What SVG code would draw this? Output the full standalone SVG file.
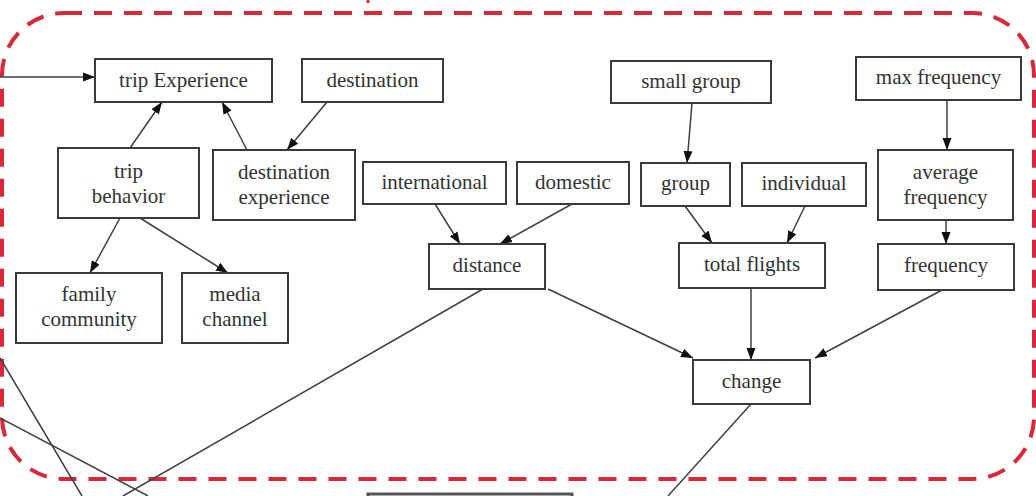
<svg xmlns="http://www.w3.org/2000/svg" width="1036" height="496" viewBox="0 0 1036 496">
  <style>
    .box { fill: #ffffff; stroke: #3a3a3a; stroke-width: 2; }
    .lbl { font-size: 21px; fill: #333333; text-anchor: middle; }
    .edge { fill: none; stroke: #404040; stroke-width: 1.5; }
    .arrow { marker-end: url(#head); }
    .frame { fill: none; stroke: #d9283a; stroke-width: 4; stroke-dasharray: 18 12; }
  </style>
  <defs>
    <marker id="head" viewBox="0 0 12 10" refX="12" refY="5" markerWidth="12" markerHeight="10" markerUnits="userSpaceOnUse" orient="auto">
      <path d="M0,0.5 L12,5 L0,9.5 Z" fill="#111111"/>
    </marker>
  </defs>
  <rect width="1036" height="496" fill="#ffffff"/>

  <!-- dashed group frame -->
  <rect class="frame" x="2" y="13" width="1032" height="466" rx="62" ry="62"/>
  <line x1="368" y1="0" x2="368" y2="3" stroke="#d9283a" stroke-width="3"/>

  <!-- connectors -->
  <g id="connectors">
    <line class="edge arrow" x1="0" y1="77" x2="95" y2="77"/>
    <line class="edge arrow" x1="130" y1="148" x2="162" y2="102"/>
    <line class="edge arrow" x1="247" y1="150" x2="222" y2="102"/>
    <line class="edge arrow" x1="327" y1="102" x2="287" y2="150"/>
    <line class="edge arrow" x1="120" y1="218" x2="90" y2="273"/>
    <line class="edge arrow" x1="140" y1="218" x2="228" y2="273"/>
    <line class="edge arrow" x1="435" y1="204" x2="460" y2="244"/>
    <line class="edge arrow" x1="572" y1="204" x2="500" y2="244"/>
    <line class="edge arrow" x1="692" y1="103" x2="687" y2="163"/>
    <line class="edge arrow" x1="685" y1="206" x2="712" y2="243"/>
    <line class="edge arrow" x1="805" y1="206" x2="787" y2="243"/>
    <line class="edge arrow" x1="947" y1="100" x2="947" y2="150"/>
    <line class="edge arrow" x1="946" y1="220" x2="946" y2="244"/>
    <line class="edge arrow" x1="548" y1="289" x2="693" y2="358"/>
    <line class="edge arrow" x1="751" y1="288" x2="751" y2="360"/>
    <line class="edge arrow" x1="942" y1="290" x2="815" y2="358"/>
    <line class="edge" x1="483" y1="289" x2="123" y2="496"/>
    <line class="edge" x1="751" y1="404" x2="668" y2="496"/>
    <line class="edge" x1="0" y1="358" x2="82" y2="496"/>
    <line class="edge" x1="0" y1="418" x2="148" y2="496"/>
  </g>

  <!-- nodes -->
  <g id="nodes" font-family="Liberation Serif, Times New Roman, serif">
  <g id="trip-experience">
    <rect class="box" x="95" y="59" width="177" height="43"/>
    <text class="lbl" x="183.5" y="87">trip Experience</text>
  </g>
  <g id="destination">
    <rect class="box" x="302" y="59" width="141" height="43"/>
    <text class="lbl" x="372.5" y="87">destination</text>
  </g>
  <g id="trip-behavior">
    <rect class="box" x="58" y="148" width="141" height="70"/>
    <text class="lbl" x="128.5" y="178">trip</text>
    <text class="lbl" x="128.5" y="203">behavior</text>
  </g>
  <g id="destination-experience">
    <rect class="box" x="213" y="150" width="142" height="70"/>
    <text class="lbl" x="284" y="179">destination</text>
    <text class="lbl" x="284" y="204">experience</text>
  </g>
  <g id="international">
    <rect class="box" x="363" y="162" width="143" height="42"/>
    <text class="lbl" x="434.5" y="189">international</text>
  </g>
  <g id="domestic">
    <rect class="box" x="517" y="162" width="112" height="42"/>
    <text class="lbl" x="573" y="189">domestic</text>
  </g>
  <g id="small-group">
    <rect class="box" x="611" y="61" width="160" height="42"/>
    <text class="lbl" x="691" y="88">small group</text>
  </g>
  <g id="group">
    <rect class="box" x="641" y="163" width="89" height="43"/>
    <text class="lbl" x="685.5" y="190">group</text>
  </g>
  <g id="individual">
    <rect class="box" x="742" y="163" width="124" height="43"/>
    <text class="lbl" x="804" y="190">individual</text>
  </g>
  <g id="max-frequency">
    <rect class="box" x="856" y="57" width="165" height="43"/>
    <text class="lbl" x="938.5" y="84">max frequency</text>
  </g>
  <g id="average-frequency">
    <rect class="box" x="878" y="150" width="135" height="70"/>
    <text class="lbl" x="945.5" y="179">average</text>
    <text class="lbl" x="945.5" y="204">frequency</text>
  </g>
  <g id="family-community">
    <rect class="box" x="16" y="273" width="146" height="70"/>
    <text class="lbl" x="89" y="301">family</text>
    <text class="lbl" x="89" y="326">community</text>
  </g>
  <g id="media-channel">
    <rect class="box" x="182" y="273" width="106" height="70"/>
    <text class="lbl" x="235" y="301">media</text>
    <text class="lbl" x="235" y="326">channel</text>
  </g>
  <g id="distance">
    <rect class="box" x="429" y="244" width="116" height="45"/>
    <text class="lbl" x="487" y="272">distance</text>
  </g>
  <g id="total-flights">
    <rect class="box" x="679" y="243" width="146" height="45"/>
    <text class="lbl" x="752" y="271">total flights</text>
  </g>
  <g id="frequency">
    <rect class="box" x="878" y="244" width="136" height="46"/>
    <text class="lbl" x="946" y="272">frequency</text>
  </g>
  <g id="change">
    <rect class="box" x="693" y="360" width="117" height="44"/>
    <text class="lbl" x="751.5" y="388">change</text>
  </g>
  <g id="lower-node">
    <rect x="368" y="494" width="204" height="30" fill="#ffffff" stroke="#555555" stroke-width="3"/>
  </g>
  </g>
</svg>
